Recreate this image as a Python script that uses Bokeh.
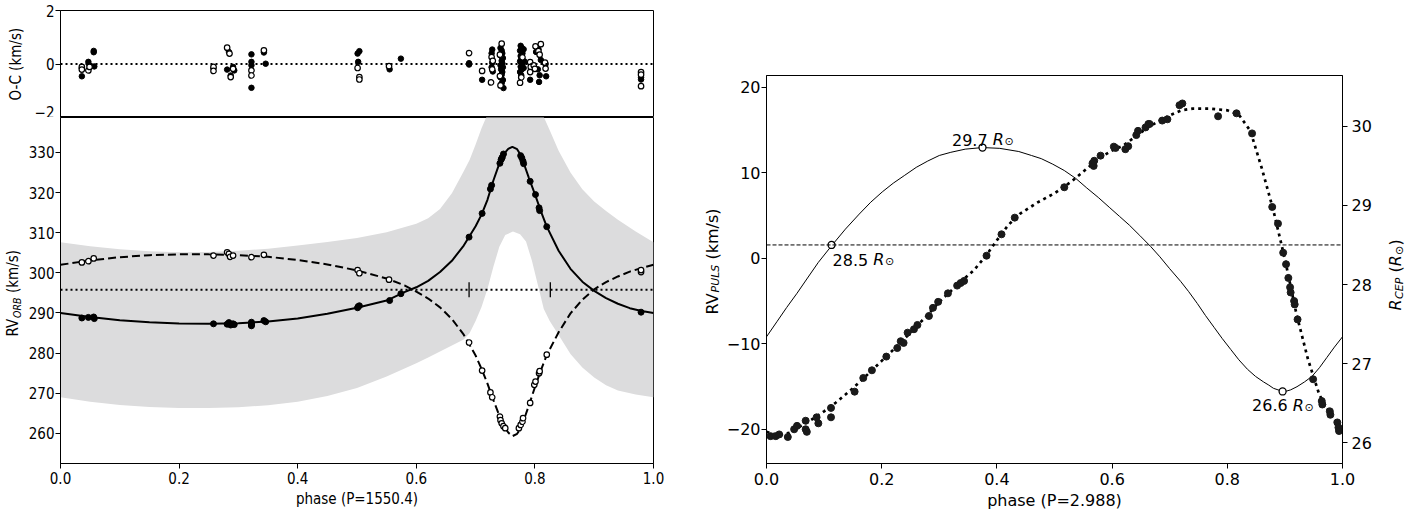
import math
from bokeh.plotting import figure
from bokeh.models import Range1d, LinearAxis, FixedTicker, Label, NumeralTickFormatter, Span
from bokeh.layouts import row, column
from bokeh.embed import file_html
from bokeh.resources import INLINE
from bokeh.core.properties import value

LF = "DejaVu Sans Condensed"
RF = "DejaVu Sans"
H = 516

# ---------------- left: orbital solution (P = 1550.4 d) ----------------
orb_xlabel = "phase (P=1550.4)"
gamma = 295.8
gamma_marks = [0.689, 0.826]

model_phase = [0.00, 0.05, 0.10, 0.15, 0.20, 0.25, 0.30, 0.35, 0.40, 0.45, 0.50, 0.55, 0.58, 0.60,
               0.62, 0.64, 0.66, 0.68, 0.70, 0.71, 0.72, 0.73, 0.74, 0.75, 0.755, 0.762, 0.77, 0.775,
               0.78, 0.79, 0.80, 0.81, 0.82, 0.84, 0.86, 0.88, 0.90, 0.92, 0.94, 0.96, 0.98, 1.00]
model_primary = [290.0, 289.0, 288.2, 287.7, 287.4, 287.3, 287.45, 287.9, 288.6, 289.8, 291.3, 293.1,
                 295.2, 296.4, 298.0, 300.2, 303.0, 306.8, 311.6, 314.5, 318.2, 323.0, 327.2, 330.0,
                 330.9, 331.4, 330.8, 329.6, 327.8, 323.6, 319.6, 315.4, 311.5, 305.5, 301.0, 297.8,
                 295.5, 293.7, 292.3, 291.2, 290.5, 290.0]
model_secondary = [302.0, 303.1, 303.9, 304.4, 304.6, 304.6, 304.4, 304.0, 303.2, 302.1, 300.6, 298.6,
                   296.9, 295.3, 293.6, 291.4, 288.5, 284.6, 279.4, 276.1, 272.4, 268.3, 264.4, 261.4,
                   260.2, 259.3, 259.9, 261.0, 262.8, 267.0, 271.5, 275.7, 279.5, 285.2, 289.9, 293.3,
                   295.9, 297.7, 299.1, 300.3, 301.2, 302.0]

band_phase = [0.00, 0.05, 0.10, 0.15, 0.20, 0.25, 0.30, 0.35, 0.40, 0.45, 0.50, 0.55, 0.60, 0.62, 0.64,
              0.66, 0.68, 0.69, 0.70, 0.71, 0.72, 0.73, 0.74, 0.75, 0.763, 0.775, 0.785, 0.795, 0.805,
              0.81, 0.815, 0.825, 0.84, 0.86, 0.88, 0.90, 0.92, 0.94, 0.97, 1.00]
band_lower = [269.0, 267.9, 267.1, 266.6, 266.3, 266.3, 266.5, 267.0, 267.9, 269.3, 271.3, 274.2, 277.5,
              278.9, 280.4, 281.9, 283.4, 285.0, 288.0, 291.5, 296.0, 301.5, 306.5, 309.4, 310.3, 309.6,
              307.8, 303.0, 297.0, 294.0, 291.0, 288.0, 284.5, 279.8, 276.4, 273.9, 272.0, 270.7, 269.7,
              269.0]
band_upper = [307.6, 306.6, 305.9, 305.4, 305.1, 305.2, 305.5, 306.0, 306.8, 307.7, 308.7, 310.1, 312.2,
              313.6, 315.9, 319.8, 325.3, 328.2, 332.0, 336.0, 339.5, 342.0, 344.0, 345.0, 345.0, 345.0,
              344.0, 343.0, 341.8, 340.4, 338.8, 335.5, 330.4, 325.0, 320.8, 317.8, 315.4, 313.2, 310.3,
              307.6]

# RV of the Cepheid (filled) and of the companion (open)
rvf_phase = [0.036, 0.047, 0.056, 0.057, 0.258, 0.281, 0.284, 0.287, 0.291, 0.293, 0.322, 0.322, 0.322,
             0.322, 0.343, 0.346, 0.501, 0.502, 0.504, 0.555, 0.574, 0.689, 0.711, 0.725, 0.727, 0.741,
             0.743, 0.744, 0.745, 0.747, 0.776, 0.778, 0.780, 0.781, 0.792, 0.801, 0.807, 0.808, 0.820,
             0.979]
rvf_value = [288.75, 288.9, 289.0, 288.6, 287.3, 287.2, 287.6, 287.0, 287.3, 287.1, 287.7, 287.3, 287.0,
             286.8, 288.1, 287.8, 291.3, 291.6, 291.8, 293.1, 294.8, 308.9, 314.8, 320.9, 321.8, 327.3,
             328.2, 328.5, 328.8, 329.6, 329.2, 328.6, 327.8, 327.2, 322.8, 319.5, 316.2, 315.5, 311.5,
             290.2]
rvo_phase = [0.036, 0.047, 0.056, 0.258, 0.281, 0.284, 0.286, 0.291, 0.322, 0.343, 0.501, 0.504, 0.554,
             0.689, 0.711, 0.725, 0.728, 0.741, 0.742, 0.744, 0.747, 0.750, 0.773, 0.776, 0.779, 0.780,
             0.792, 0.799, 0.801, 0.807, 0.808, 0.820, 0.979, 0.979]
rvo_value = [302.6, 302.9, 303.6, 304.3, 305.1, 304.7, 304.0, 304.3, 303.9, 304.5, 300.7, 299.9, 298.3,
             282.65, 275.65, 270.2, 269.0, 264.2, 263.3, 262.5, 261.8, 261.3, 261.3, 262.1, 262.9, 263.8,
             267.6, 272.1, 272.9, 275.0, 275.5, 279.6, 300.2, 300.7]

# O-C residuals
ocf_phase = [0.036, 0.036, 0.047, 0.049, 0.056, 0.056, 0.057,
             0.258, 0.284, 0.281, 0.287, 0.293, 0.291,
             0.322, 0.322, 0.322, 0.322, 0.343, 0.346,
             0.501, 0.504, 0.502, 0.555, 0.574,
             0.689, 0.689, 0.711, 0.728, 0.727, 0.728, 0.727, 0.729,
             0.742, 0.744, 0.745, 0.743, 0.746, 0.744, 0.745, 0.742, 0.746, 0.743, 0.745, 0.744, 0.742,
             0.746, 0.744, 0.747,
             0.776, 0.778, 0.775, 0.779, 0.776, 0.777, 0.775, 0.779, 0.776, 0.778, 0.775, 0.777, 0.781,
             0.782, 0.781,
             0.792, 0.802, 0.806, 0.808, 0.807, 0.818, 0.819, 0.810, 0.805,
             0.979, 0.979]
ocf_value = [-0.46, -0.15, 0.08, -0.05, 0.49, 0.44, -0.09,
             -0.15, 0.45, -0.21, -0.43, -0.24, -0.11,
             0.36, 0.08, -0.05, -0.89, 0.43, 0.01,
             0.39, 0.48, 0.08, -0.20, 0.20,
             -0.02, 0.03, -0.59, 0.54, 0.40, 0.05, -0.12, -0.28,
             0.60, 0.50, 0.40, 0.30, 0.22, 0.12, 0.03, -0.05, -0.12, -0.20, -0.30, -0.40, -0.50,
             -0.60, -0.72, -0.90,
             0.68, 0.60, 0.50, 0.40, 0.30, 0.20, 0.10, 0.00, -0.10, -0.20, -0.30, -0.42, 0.55,
             0.10, -0.15,
             -0.59, 0.45, 0.55, -0.42, -0.67, 0.00, -0.46, 0.15, -0.20,
             -0.50, -0.58]
oco_phase = [0.036, 0.036, 0.047, 0.049,
             0.258, 0.258, 0.281, 0.285, 0.287, 0.291,
             0.322, 0.322, 0.343,
             0.501, 0.504, 0.504, 0.554,
             0.689, 0.711, 0.727, 0.729, 0.726, 0.728,
             0.744, 0.742, 0.741, 0.741,
             0.775, 0.777, 0.779,
             0.792, 0.793, 0.792, 0.801, 0.810, 0.806, 0.808, 0.798, 0.800, 0.818, 0.817,
             0.979, 0.979, 0.979]
oco_value = [-0.11, -0.21, -0.24, -0.11,
             -0.11, -0.26, 0.61, 0.39, -0.49, -0.18,
             -0.24, -0.43, 0.51,
             -0.15, -0.49, -0.58, -0.08,
             0.41, -0.26, 0.26, 0.12, -0.69, -0.20,
             0.76, -0.80, 0.35, -0.45,
             -0.70, -0.50, 0.25,
             0.07, -0.11, -0.30, 0.66, 0.74, 0.48, 0.35, -0.05, -0.18, -0.17, 0.05,
             -0.30, -0.40, -0.83]

# ---------------- right: pulsation (P = 2.988 d) ----------------
puls_xlabel = "phase (P=2.988)"
puls_phase = [0.007, 0.016, 0.022, 0.037, 0.048, 0.053, 0.068, 0.068, 0.070, 0.087, 0.090, 0.112, 0.112,
              0.153, 0.168, 0.183, 0.208, 0.227, 0.233, 0.238, 0.245, 0.256, 0.262, 0.282, 0.289, 0.298,
              0.315, 0.331, 0.337, 0.343, 0.382, 0.408, 0.431, 0.517, 0.566, 0.568, 0.569, 0.580, 0.603,
              0.606, 0.623, 0.628, 0.642, 0.645, 0.658, 0.663, 0.665, 0.687, 0.696, 0.717, 0.722, 0.784,
              0.816, 0.843, 0.878, 0.888, 0.897, 0.902, 0.906, 0.909, 0.910, 0.916, 0.917, 0.922, 0.949,
              0.964, 0.965, 0.978, 0.979, 0.991, 0.993, 0.994]
puls_rv = [-20.8, -20.8, -20.6, -20.9, -20.0, -19.6, -19.0, -20.0, -20.3, -18.6, -19.3, -17.5, -18.6,
           -15.6, -14.0, -13.1, -11.5, -10.5, -9.7, -9.9, -8.7, -8.3, -7.8, -6.75, -5.8, -5.1,
           -4.1, -3.2, -2.9, -2.65, 0.3, 2.8, 4.75, 8.3, 11.1, 10.8, 11.4, 12.0, 13.05,
           12.9, 12.75, 13.1, 14.4, 14.9, 15.3, 15.7, 15.7, 16.1, 16.25, 17.9, 18.1, 16.6,
           16.95, 14.6, 6.0, 4.05, 0.65, -0.7, -2.3, -3.4, -4.0, -5.0, -5.4, -7.15, -14.15,
           -16.7, -17.1, -17.9, -18.3, -19.2, -19.8, -20.2]

fit_phase = [0.00, 0.02, 0.04, 0.06, 0.08, 0.10, 0.12, 0.15, 0.18, 0.20, 0.22, 0.25, 0.28, 0.30, 0.33,
             0.36, 0.38, 0.40, 0.42, 0.44, 0.47, 0.50, 0.53, 0.56, 0.58, 0.60, 0.62, 0.64, 0.66, 0.68,
             0.70, 0.72, 0.74, 0.77, 0.80, 0.82, 0.84, 0.86, 0.88, 0.90, 0.92, 0.94, 0.96, 0.98, 1.00]
fit_rv = [-20.3, -20.7, -20.4, -19.6, -18.8, -17.9, -16.9, -15.2, -13.3, -12.0, -10.7, -8.7, -6.6, -5.1,
          -3.2, -1.4, 0.2, 2.1, 3.9, 5.2, 6.5, 7.6, 9.0, 10.7, 11.8, 12.6, 13.2, 14.2, 15.2, 16.0,
          16.7, 17.3, 17.5, 17.5, 17.3, 16.8, 14.9, 10.5, 5.6, -0.1, -6.5, -11.8, -16.0, -18.3, -20.3]

radius_phase = [0.000, 0.018, 0.035, 0.053, 0.070, 0.090, 0.113, 0.137, 0.161, 0.181, 0.201, 0.220,
                0.240, 0.260, 0.280, 0.300, 0.320, 0.345, 0.375, 0.405, 0.438, 0.460, 0.477, 0.497,
                0.517, 0.537, 0.556, 0.576, 0.596, 0.613, 0.630, 0.648, 0.667, 0.683, 0.700, 0.719,
                0.733, 0.748, 0.762, 0.777, 0.791, 0.806, 0.820, 0.835, 0.849, 0.863, 0.872, 0.880,
                0.888, 0.896, 0.903, 0.910, 0.921, 0.934, 0.947, 0.960, 0.973, 0.986, 1.000]
radius_value = [27.34, 27.53, 27.71, 27.89, 28.07, 28.28, 28.49, 28.70, 28.89, 29.04, 29.17, 29.28,
                29.38, 29.48, 29.56, 29.63, 29.67, 29.71, 29.73, 29.72, 29.68, 29.63, 29.59, 29.52,
                29.44, 29.34, 29.22, 29.10, 28.97, 28.86, 28.75, 28.62, 28.48, 28.35, 28.20, 28.04,
                27.91, 27.76, 27.61, 27.46, 27.32, 27.18, 27.05, 26.93, 26.84, 26.77, 26.73, 26.69,
                26.67, 26.65, 26.655, 26.67, 26.71, 26.77, 26.84, 26.95, 27.08, 27.21, 27.34]
radius_mean = 28.5
mark_phase = [0.113, 0.375, 0.896]
mark_radius = [28.50, 29.73, 26.65]
mark_text = ["28.5", "29.7", "26.6"]


# ---------------- helpers ----------------
def style(p):
    p.grid.visible = False
    p.outline_line_color = "black"
    p.outline_line_width = 1
    p.background_fill_color = "white"
    p.border_fill_color = "white"


def style_axis(ax, font, size, standoff=3):
    ax.axis_line_color = "black"
    ax.axis_line_width = 1
    ax.major_tick_line_color = "black"
    ax.major_tick_line_width = 1
    ax.major_tick_in = 0
    ax.major_tick_out = 5
    ax.minor_tick_line_color = None
    ax.major_label_text_font = font
    ax.major_label_text_font_size = f"{size}px"
    ax.major_label_text_color = "black"
    ax.major_label_standoff = standoff
    ax.axis_label_text_font = font
    ax.axis_label_text_font_size = f"{size}px"
    ax.axis_label_text_font_style = "normal"
    ax.axis_label_text_color = "black"
    ax.axis_label_standoff = 3


def label_fig(w, top, bottom):
    # data coordinates = window pixels measured upward from the bottom edge
    f = figure(width=w, height=H, x_range=Range1d(0, w), y_range=Range1d(bottom, H - top),
               x_axis_location=None, y_axis_location=None, output_backend="svg",
               toolbar_location=None, min_border_left=0, min_border_right=0,
               min_border_top=top, min_border_bottom=bottom)
    f.grid.visible = False
    f.outline_line_color = None
    f.background_fill_color = "white"
    f.border_fill_color = "white"
    return f


def vtext(f, x, sy, text, font, size, style_="normal"):
    # x: horizontal centre of the rotated text; sy: window y where the text starts (its bottom end)
    f.text(x=[x], y=[H - sy], text=[text], angle=math.pi / 2, text_align=value("left"),
           text_baseline=value("middle"), text_font=value(font), text_font_size=value(f"{size}px"),
           text_font_style=value(style_), text_color="black")


# ---------------- label strip left of the left panels ----------------
lab_l = label_fig(24, 0, 0)
vtext(lab_l, 15, 100, "O-C (km/s)", LF, 15)
vtext(lab_l, 12, 336, "RV", LF, 15)
vtext(lab_l, 16, 317.4, "ORB", LF, 10.5, "italic")
vtext(lab_l, 12, 292.6, "(km/s)", LF, 15)

# ---------------- top-left: O-C ----------------
p_oc = figure(width=676, height=117, x_range=Range1d(0, 1), y_range=Range1d(-2, 2),
              x_axis_location=None, output_backend="svg", toolbar_location=None,
              min_border_left=36, min_border_right=47, min_border_top=10, min_border_bottom=0)
style(p_oc)
style_axis(p_oc.yaxis[0], LF, 15, 1)
p_oc.yaxis.ticker = FixedTicker(ticks=[-2, 0, 2])
p_oc.yaxis.major_label_overrides = {-2: "\u22122", 0: "0", 2: "2"}
p_oc.add_layout(Span(location=0, dimension="width", line_color="black", line_width=2, line_dash="2 3"))
p_oc.scatter(ocf_phase, ocf_value, size=5.5, fill_color="black", line_color="black", line_width=1)
p_oc.scatter(oco_phase, oco_value, size=5.5, fill_color="white", line_color="black", line_width=1.2)

# ---------------- bottom-left: RV orbit ----------------
p_rv = figure(width=676, height=399, x_range=p_oc.x_range, y_range=Range1d(252.5, 338.7),
              output_backend="svg", toolbar_location=None,
              min_border_left=36, min_border_right=47, min_border_top=0, min_border_bottom=53)
style(p_rv)
style_axis(p_rv.xaxis[0], LF, 15, 3)
style_axis(p_rv.yaxis[0], LF, 15, 1)
p_rv.xaxis.ticker = FixedTicker(ticks=[0, 0.2, 0.4, 0.6, 0.8, 1.0])
p_rv.xaxis.formatter = NumeralTickFormatter(format="0.0")
p_rv.xaxis.axis_label = orb_xlabel
p_rv.yaxis.ticker = FixedTicker(ticks=[260, 270, 280, 290, 300, 310, 320, 330])

p_rv.varea(x=band_phase, y1=band_lower, y2=band_upper, fill_color="#dcdcdd")
p_rv.add_layout(Span(location=gamma, dimension="width", line_color="black", line_width=2, line_dash="2 3"))
p_rv.scatter(gamma_marks, [gamma] * len(gamma_marks), marker="dash", angle=math.pi / 2, size=15,
             line_color="black", line_width=1.3)
p_rv.line(model_phase, model_primary, line_color="black", line_width=2)
p_rv.line(model_phase, model_secondary, line_color="black", line_width=2, line_dash="8 4")
p_rv.scatter(rvf_phase, rvf_value, size=6, fill_color="black", line_color="black", line_width=1)
p_rv.scatter(rvo_phase, rvo_value, size=5.5, fill_color="white", line_color="black", line_width=1.2)

# ---------------- label strips around the right panel ----------------
lab_r1 = label_fig(22, 75, 53)
vtext(lab_r1, 11.5, 314, "RV", RF, 16)
vtext(lab_r1, 15, 292, "PULS", RF, 11, "italic")
vtext(lab_r1, 11.5, 259, "(km/s)", RF, 16)

lab_r2 = label_fig(30, 75, 53)
vtext(lab_r2, 12, 310, "R", RF, 16, "italic")
vtext(lab_r2, 16, 298.5, "CEP", RF, 11, "italic")
vtext(lab_r2, 12, 272, "(", RF, 16)
vtext(lab_r2, 12, 265.8, "R", RF, 16, "italic")
vtext(lab_r2, 16, 254.5, "\u2299", RF, 11)
vtext(lab_r2, 12, 245, ")", RF, 16)

# ---------------- right: pulsation ----------------
p_r = figure(width=661, height=H, x_range=Range1d(0, 1), y_range=Range1d(-24.0, 21.37),
             output_backend="svg", toolbar_location=None,
             min_border_left=44, min_border_right=41, min_border_top=75, min_border_bottom=53)
style(p_r)
p_r.extra_y_ranges = {"r": Range1d(25.74, 30.64)}
raxis = LinearAxis(y_range_name="r", ticker=FixedTicker(ticks=[26, 27, 28, 29, 30]))
p_r.add_layout(raxis, "right")
style_axis(p_r.xaxis[0], RF, 16, 4)
style_axis(p_r.yaxis[0], RF, 16, 1)
style_axis(raxis, RF, 16, 4)
p_r.xaxis.ticker = FixedTicker(ticks=[0, 0.2, 0.4, 0.6, 0.8, 1.0])
p_r.xaxis.formatter = NumeralTickFormatter(format="0.0")
p_r.xaxis.axis_label = puls_xlabel
p_r.yaxis[0].ticker = FixedTicker(ticks=[-20, -10, 0, 10, 20])
p_r.yaxis[0].major_label_overrides = {-20: "\u221220", -10: "\u221210", 0: "0", 10: "10", 20: "20"}

p_r.add_layout(Span(location=radius_mean, dimension="width", y_range_name="r", line_color="black",
                    line_width=1, line_dash="4 2"))
p_r.line(radius_phase, radius_value, y_range_name="r", line_color="black", line_width=1)
p_r.line(fit_phase, fit_rv, line_color="black", line_width=2.7, line_dash="3 4")
p_r.scatter(puls_phase, puls_rv, size=7, fill_color="#1a1a1a", line_color="#1a1a1a")
p_r.scatter(mark_phase, mark_radius, y_range_name="r", size=7, fill_color="white", line_color="black",
            line_width=1.3)

# radius annotations: (x offset of start, baseline offset)
anchors = [(1, -15.0), (-30.5, 8.0), (-30.5, -14.0)]
for ph, rr, txt, (ax_, ay_) in zip(mark_phase, mark_radius, mark_text, anchors):
    common = dict(x=ph, y=rr, y_range_name="r", text_font=RF, text_color="black",
                  text_baseline="alphabetic", text_align="left")
    p_r.add_layout(Label(text=txt, x_offset=ax_, y_offset=ay_, text_font_size="16px", **common))
    p_r.add_layout(Label(text="R", x_offset=ax_ + 40.7, y_offset=ay_, text_font_size="16px",
                         text_font_style="italic", **common))
    p_r.add_layout(Label(text="\u2299", x_offset=ax_ + 52.5, y_offset=ay_ - 2, text_font_size="11px",
                         **common))

left_block = row(lab_l, column(p_oc, p_rv))
right_block = row(lab_r1, p_r, lab_r2)
layout = row(left_block, right_block)
open("out.html", "w").write(file_html(layout, INLINE))
